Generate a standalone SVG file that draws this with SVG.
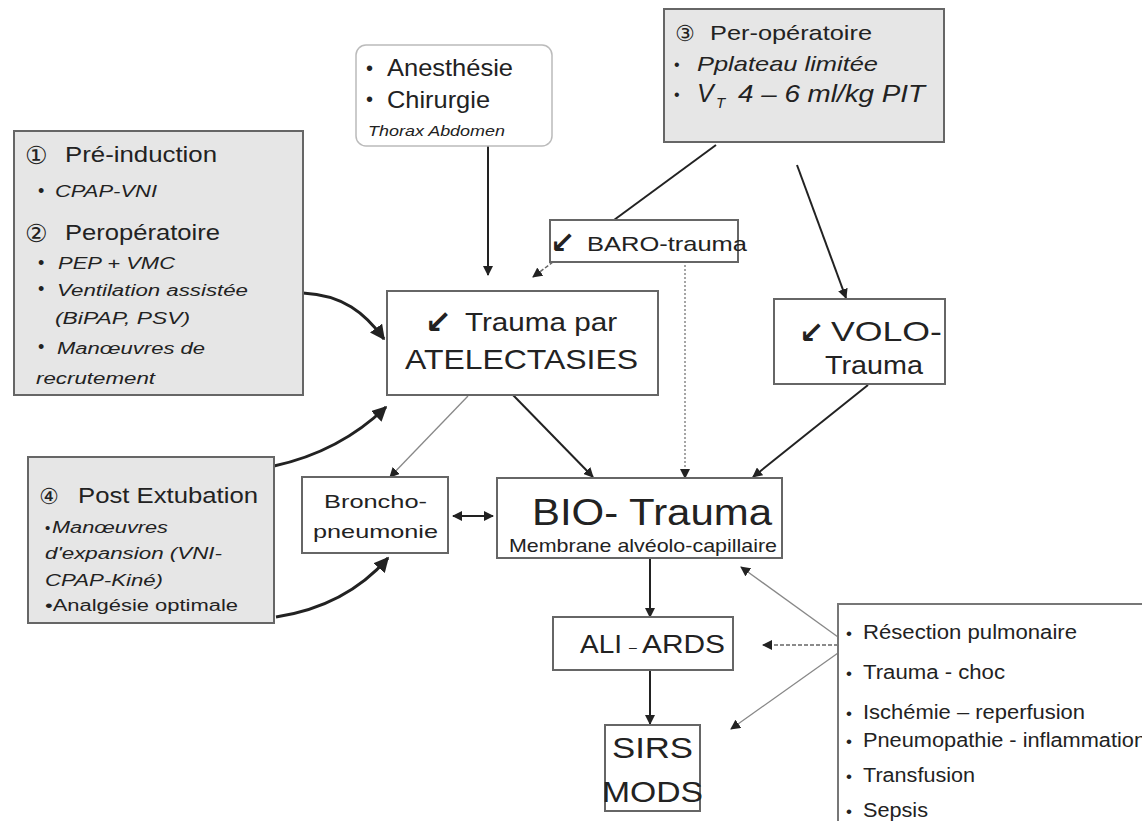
<svg xmlns="http://www.w3.org/2000/svg" width="1142" height="821" viewBox="0 0 1142 821">
<style>
text{font-family:"Liberation Sans","DejaVu Sans",sans-serif;fill:#222}
.it{font-style:italic}
.box{fill:#fff;stroke:#666;stroke-width:2}
.gbox{fill:#e6e6e6;stroke:#666;stroke-width:2}
.ln{stroke:#222;stroke-width:2;fill:none}
.thick{stroke:#222;stroke-width:3;fill:none}
.thin{stroke:#888;stroke-width:1.3;fill:none}
.dot{stroke:#888;stroke-width:1.5;fill:none;stroke-dasharray:2 2}
.dash{stroke:#666;stroke-width:1.5;fill:none;stroke-dasharray:4 2}
.sym{font-family:"DejaVu Sans",sans-serif}
</style>
<defs>
<marker id="a" viewBox="0 0 10 10" refX="9" refY="5" markerWidth="10" markerHeight="10" markerUnits="userSpaceOnUse" orient="auto-start-reverse"><path d="M0,0 L10,5 L0,10 z" fill="#222"/></marker>
<marker id="ab" viewBox="0 0 10 10" refX="9" refY="5" markerWidth="15" markerHeight="15" markerUnits="userSpaceOnUse" orient="auto"><path d="M0,0 L10,5 L0,10 z" fill="#222"/></marker>
</defs>
<rect width="1142" height="821" fill="#fff"/>

<g id="connectors">
<line class="ln" x1="488" y1="146" x2="488" y2="275" marker-end="url(#a)"/>
<line class="ln" x1="716" y1="145" x2="614" y2="220"/>
<line class="dash" x1="553" y1="262" x2="533" y2="277" marker-end="url(#a)"/>
<line class="ln" x1="797" y1="165" x2="846" y2="298" marker-end="url(#a)"/>
<line class="dot" x1="685" y1="265" x2="685" y2="478" marker-end="url(#a)"/>
<line class="ln" x1="513" y1="395" x2="593" y2="477" marker-end="url(#a)"/>
<line class="thin" x1="468" y1="396" x2="390" y2="477" marker-end="url(#a)"/>
<line class="ln" x1="868" y1="385" x2="753" y2="477" marker-end="url(#a)"/>
<line class="ln" x1="453" y1="516" x2="493" y2="516" marker-start="url(#a)" marker-end="url(#a)"/>
<path class="thick" d="M303,293 C343,295 365,313 384,339" marker-end="url(#ab)"/>
<path class="thick" d="M274,466 C320,456 356,436 386,407" marker-end="url(#ab)"/>
<path class="thick" d="M276,617 C322,610 360,590 388,558" marker-end="url(#ab)"/>
<line class="ln" x1="650" y1="558" x2="650" y2="617" marker-end="url(#a)"/>
<line class="ln" x1="650" y1="670" x2="650" y2="724" marker-end="url(#a)"/>
<line class="thin" x1="838" y1="637" x2="741" y2="567" marker-end="url(#a)"/>
<line class="dash" x1="838" y1="645" x2="763" y2="645" marker-end="url(#a)"/>
<line class="thin" x1="838" y1="653" x2="731" y2="729" marker-end="url(#a)"/>
</g>

<g id="pre-induction">
<rect class="gbox" x="14" y="131" width="289" height="264"/>
<text class="sym" x="25" y="164" font-size="25">①</text>
<text x="65" y="162" font-size="22" textLength="152" lengthAdjust="spacingAndGlyphs">Pré-induction</text>
<text x="38" y="197" font-size="18">•</text>
<text class="it" x="55" y="197" font-size="16" textLength="102" lengthAdjust="spacingAndGlyphs">CPAP-VNI</text>
<text class="sym" x="25" y="242" font-size="25">②</text>
<text x="65" y="240" font-size="22" textLength="155" lengthAdjust="spacingAndGlyphs">Peropératoire</text>
<text x="38" y="269" font-size="18">•</text>
<text class="it" x="58" y="269" font-size="16" textLength="117" lengthAdjust="spacingAndGlyphs">PEP + VMC</text>
<text x="38" y="295" font-size="18">•</text>
<text class="it" x="57" y="296" font-size="16" textLength="191" lengthAdjust="spacingAndGlyphs">Ventilation assistée</text>
<text class="it" x="55" y="324" font-size="16" textLength="135" lengthAdjust="spacingAndGlyphs">(BiPAP, PSV)</text>
<text x="38" y="353" font-size="18">•</text>
<text class="it" x="57" y="354" font-size="16" textLength="148" lengthAdjust="spacingAndGlyphs">Manœuvres de</text>
<text class="it" x="36" y="384" font-size="16" textLength="119" lengthAdjust="spacingAndGlyphs">recrutement</text>
</g>

<g id="anesthesie">
<rect x="356" y="45" width="196" height="101" rx="10" fill="#fff" stroke="#bbb" stroke-width="1.5"/>
<text x="366" y="75" font-size="20">•</text>
<text x="387" y="76" font-size="24" textLength="126" lengthAdjust="spacingAndGlyphs">Anesthésie</text>
<text x="366" y="106" font-size="20">•</text>
<text x="387" y="108" font-size="24" textLength="103" lengthAdjust="spacingAndGlyphs">Chirurgie</text>
<text class="it" x="368" y="136" font-size="15" textLength="137" lengthAdjust="spacingAndGlyphs">Thorax Abdomen</text>
</g>

<g id="per-operatoire">
<rect class="gbox" x="664" y="9" width="280" height="133"/>
<text class="sym" x="675" y="41" font-size="22">③</text>
<text x="710" y="40" font-size="21" textLength="162" lengthAdjust="spacingAndGlyphs">Per-opératoire</text>
<text x="674" y="70" font-size="16">•</text>
<text class="it" x="697" y="71" font-size="21" textLength="181" lengthAdjust="spacingAndGlyphs">Pplateau limitée</text>
<text x="674" y="100" font-size="16">•</text>
<text class="it" x="697" y="102" font-size="25">V</text>
<text class="it" x="716" y="108" font-size="15">T</text>
<text class="it" x="738" y="102" font-size="24" textLength="187" lengthAdjust="spacingAndGlyphs">4 – 6 ml/kg PIT</text>
</g>

<g id="baro">
<rect class="box" x="550" y="220" width="188" height="42"/>
<text class="sym" x="550" y="253" font-size="30" font-weight="bold">↙</text>
<text x="587" y="251" font-size="21" textLength="160" lengthAdjust="spacingAndGlyphs">BARO-trauma</text>
</g>

<g id="atelectasies">
<rect class="box" x="387" y="291" width="271" height="104"/>
<text class="sym" x="425" y="333" font-size="32" font-weight="bold">↙</text>
<text x="465" y="331" font-size="26" textLength="152" lengthAdjust="spacingAndGlyphs">Trauma par</text>
<text x="405" y="369" font-size="28" textLength="233" lengthAdjust="spacingAndGlyphs">ATELECTASIES</text>
</g>

<g id="volo">
<rect class="box" x="774" y="299" width="171" height="85"/>
<text class="sym" x="799" y="343" font-size="30" font-weight="bold">↙</text>
<text x="831" y="341" font-size="28" textLength="111" lengthAdjust="spacingAndGlyphs">VOLO-</text>
<text x="825" y="374" font-size="26" textLength="98" lengthAdjust="spacingAndGlyphs">Trauma</text>
</g>

<g id="post-extubation">
<rect class="gbox" x="28" y="457" width="246" height="166"/>
<text class="sym" x="39" y="504" font-size="22">④</text>
<text x="78" y="503" font-size="22" textLength="180" lengthAdjust="spacingAndGlyphs">Post Extubation</text>
<text x="45" y="533" font-size="15">•</text>
<text class="it" x="52" y="533" font-size="16" textLength="116" lengthAdjust="spacingAndGlyphs">Manœuvres</text>
<text class="it" x="45" y="559" font-size="16" textLength="177" lengthAdjust="spacingAndGlyphs">d'expansion (VNI-</text>
<text class="it" x="45" y="586" font-size="16" textLength="118" lengthAdjust="spacingAndGlyphs">CPAP-Kiné)</text>
<text x="45" y="611" font-size="16" textLength="193" lengthAdjust="spacingAndGlyphs">•Analgésie optimale</text>
</g>

<g id="broncho">
<rect class="box" x="302" y="477" width="146" height="76"/>
<text x="324" y="508" font-size="19" textLength="103" lengthAdjust="spacingAndGlyphs">Broncho-</text>
<text x="313" y="538" font-size="19" textLength="125" lengthAdjust="spacingAndGlyphs">pneumonie</text>
</g>

<g id="bio-trauma">
<rect class="box" x="497" y="478" width="285" height="80"/>
<text x="532" y="525" font-size="36" textLength="240" lengthAdjust="spacingAndGlyphs">BIO- Trauma</text>
<text x="509" y="552" font-size="19" textLength="268" lengthAdjust="spacingAndGlyphs">Membrane alvéolo-capillaire</text>
</g>

<g id="ali-ards">
<rect class="box" x="553" y="617" width="180" height="53"/>
<text x="580" y="653" font-size="25" textLength="42" lengthAdjust="spacingAndGlyphs">ALI</text>
<text x="629" y="652" font-size="14">–</text>
<text x="642" y="653" font-size="25" textLength="83" lengthAdjust="spacingAndGlyphs">ARDS</text>
</g>

<g id="sirs-mods">
<rect class="box" x="605" y="725" width="95" height="86"/>
<text x="612" y="758" font-size="30" textLength="81" lengthAdjust="spacingAndGlyphs">SIRS</text>
<text x="602" y="802" font-size="30" textLength="101" lengthAdjust="spacingAndGlyphs">MODS</text>
</g>

<g id="causes">
<rect x="838" y="604" width="320" height="230" fill="#fff" stroke="#777" stroke-width="2"/>
<text x="846" y="639" font-size="17">•</text>
<text x="863" y="639" font-size="20" textLength="214" lengthAdjust="spacingAndGlyphs">Résection pulmonaire</text>
<text x="846" y="679" font-size="17">•</text>
<text x="863" y="679" font-size="20" textLength="142" lengthAdjust="spacingAndGlyphs">Trauma - choc</text>
<text x="846" y="719" font-size="17">•</text>
<text x="863" y="719" font-size="20" textLength="222" lengthAdjust="spacingAndGlyphs">Ischémie – reperfusion</text>
<text x="846" y="747" font-size="17">•</text>
<text x="863" y="747" font-size="20" textLength="283" lengthAdjust="spacingAndGlyphs">Pneumopathie - inflammation</text>
<text x="846" y="782" font-size="17">•</text>
<text x="863" y="782" font-size="20" textLength="112" lengthAdjust="spacingAndGlyphs">Transfusion</text>
<text x="846" y="817" font-size="17">•</text>
<text x="863" y="817" font-size="20" textLength="65" lengthAdjust="spacingAndGlyphs">Sepsis</text>
</g>
</svg>
